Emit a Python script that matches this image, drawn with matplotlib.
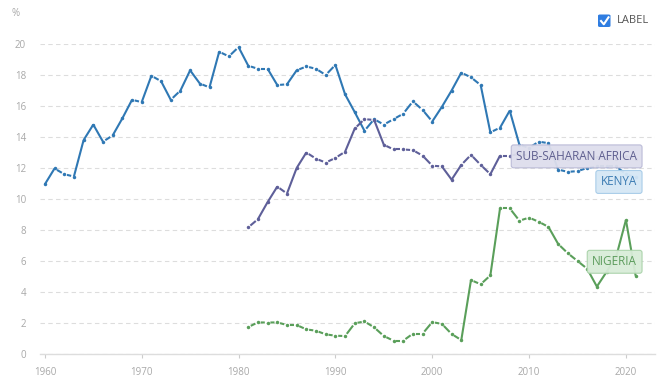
import matplotlib
matplotlib.use("Agg")
import matplotlib.pyplot as plt
from matplotlib.patches import FancyBboxPatch
import numpy as np

plt.rcParams['font.family'] = ['Open Sans', 'DejaVu Sans']

# Data (%)
kenya_years = list(range(1960, 2022))
kenya = [10.95, 11.97, 11.6, 11.45, 13.8, 14.8, 13.7, 14.1, 15.2, 16.4,
         16.25, 17.95, 17.6, 16.4, 17.0, 18.3, 17.45, 17.2, 19.5, 19.2,
         19.8, 18.6, 18.4, 18.4, 17.35, 17.4, 18.3, 18.55, 18.4, 18.0,
         18.65, 16.75, 15.6, 14.4, 15.15, 14.8, 15.15, 15.5, 16.3, 15.75,
         15.0, 15.95, 17.0, 18.15, 17.85, 17.35, 14.3, 14.6, 15.7, 13.5,
         13.3, 13.7, 13.6, 11.9, 11.75, 11.8, 12.0, 12.1, 12.1, 12.1,
         11.6, 11.4]

ssa_years = list(range(1981, 2022))
ssa = [8.17, 8.7, 9.8, 10.8, 10.35, 12.0, 13.0, 12.6, 12.35, 12.65,
       13.05, 14.55, 15.15, 15.1, 13.5, 13.2, 13.2, 13.15, 12.8, 12.15,
       12.1, 11.25, 12.2, 12.85, 12.2, 11.6, 12.8, 12.8, 12.9, 12.8,
       12.7, 12.7, 12.6, 12.6, 12.7, 12.8, 12.7, 12.6, 12.6, 12.8,
       12.6]

nigeria_years = list(range(1981, 2022))
nigeria = [1.74, 2.04, 2.03, 2.04, 1.87, 1.87, 1.59, 1.5, 1.27, 1.18,
           1.16, 1.98, 2.1, 1.72, 1.16, 0.86, 0.86, 1.31, 1.31, 2.06,
           1.94, 1.29, 0.9, 4.77, 4.5, 5.07, 9.4, 9.4, 8.6, 8.8,
           8.53, 8.2, 7.1, 6.5, 6.0, 5.5, 4.35, 5.3, 6.3, 8.65,
           5.05]

KENYA_C = '#2f78b4'
SSA_C = '#5e5f99'
NIGERIA_C = '#5a9f5a'

fig = plt.figure(figsize=(6.67, 3.88), dpi=100)
ax = fig.add_axes([0.06, 0.0876, 0.922, 0.799])
ax.set_xlim(1959.5, 2023.0)
ax.set_ylim(0, 20)


def draw_series(years, vals, color):
    """Dots at points; flat segments drawn short (gap at each end), steep ones full"""
    pts = ax.transData.transform(np.column_stack([years, vals]))
    inv = ax.transData.inverted()
    for i in range(len(pts) - 1):
        p0, p1 = pts[i], pts[i + 1]
        d = p1 - p0
        length = np.hypot(*d)
        if length > 16:
            a, b = p0, p1
        else:
            gap = 2.8 / length
            a, b = p0 + d * gap, p1 - d * gap
        seg = inv.transform(np.array([a, b]))
        ax.plot(seg[:, 0], seg[:, 1], color=color, lw=1.5,
                solid_capstyle='butt', zorder=3)
    ax.plot(years, vals, 'o', color=color, ms=2.5, mew=0, zorder=4)


draw_series(kenya_years, kenya, KENYA_C)
draw_series(ssa_years, ssa, SSA_C)
draw_series(nigeria_years, nigeria, NIGERIA_C)

# grid and axes
ax.set_yticks(range(0, 21, 2))
ax.set_xticks(range(1960, 2021, 10))
ax.yaxis.grid(True, color='#dddddd', linestyle=(0, (4, 3)), lw=0.8)
ax.set_axisbelow(True)
for s in ['top', 'right', 'left']:
    ax.spines[s].set_visible(False)
ax.spines['bottom'].set_color('#dddddd')
ax.spines['bottom'].set_linewidth(1.0)
ax.tick_params(axis='y', length=0, pad=10, labelsize=7, labelcolor='#a8a8a8')
ax.tick_params(axis='x', length=3, color='#cccccc', pad=6, labelsize=7,
               labelcolor='#a8a8a8')

fig.text(12 / 667, 1 - 14 / 388, '%', fontsize=7, color='#a8a8a8', va='center')

# end labels
def end_label(y, text, fc, ec, tc):
    ax.text(2021.15, y, text, ha='right', va='center', fontsize=8.5, color=tc,
            zorder=6,
            bbox=dict(boxstyle='round,pad=0.42,rounding_size=0.2', fc=fc,
                      ec=ec, lw=0.8, alpha=0.95))

end_label(12.75, 'SUB-SAHARAN AFRICA', '#dedeec', '#b9b9d6', '#5f5f8f')
end_label(11.1, 'KENYA', '#d5e7f5', '#a6cbe8', '#3b7bb2')
end_label(5.95, 'NIGERIA', '#d8ecd8', '#a9d2a9', '#5c9c5c')

# LABEL checkbox
box = FancyBboxPatch((598 / 667, 1 - 27 / 388), 12.5 / 667, 12.5 / 388,
                     boxstyle='round,pad=0,rounding_size=0.003',
                     transform=fig.transFigure, fc='#2f7de1', ec='none')
fig.patches.append(box)
fig.lines.append(plt.Line2D([601 / 667, 603.8 / 667, 608.5 / 667],
                            [1 - 21 / 388, 1 - 24.3 / 388, 1 - 17.3 / 388],
                            transform=fig.transFigure, color='white', lw=1.5))
fig.text(617 / 667, 1 - 20.5 / 388, 'LABEL', fontsize=8, color='#555555',
         va='center')

fig.savefig('out.png', dpi=100)
